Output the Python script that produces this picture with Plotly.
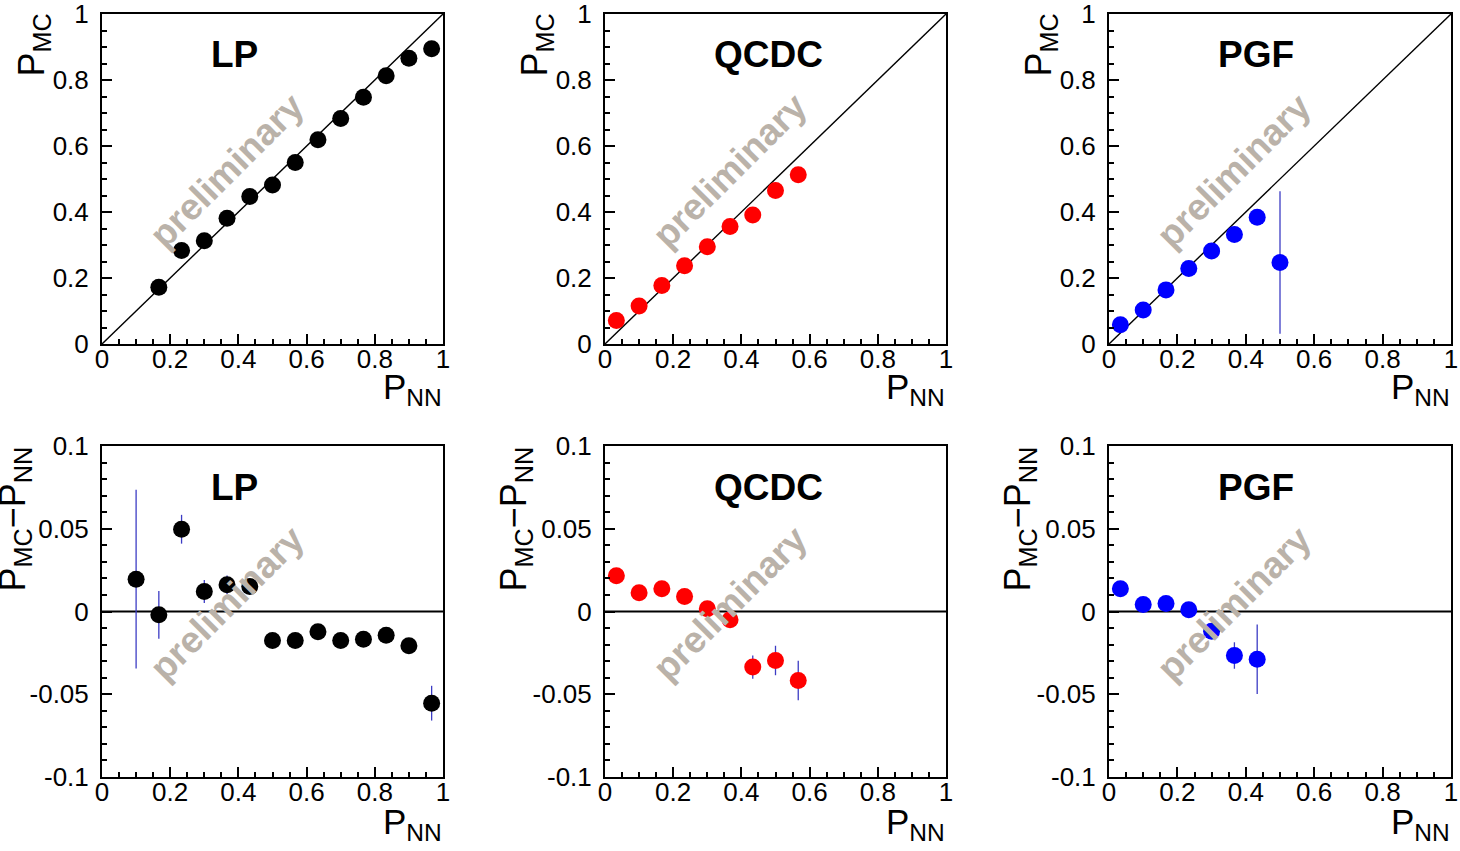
import plotly.graph_objects as go

# ---------------- data ----------------
lp_x_top = [0.1667, 0.2333, 0.3, 0.3667, 0.4333, 0.5, 0.5667, 0.6333, 0.7, 0.7667, 0.8333, 0.9, 0.9667]
lp_y_top = [0.172, 0.283, 0.313, 0.381, 0.447, 0.482, 0.550, 0.619, 0.683, 0.748, 0.813, 0.866, 0.895]
lp_e_top = [0.0144, 0.0087, 0.007, 0.0057, 0.004, 0.002, 0.002, 0.002, 0.002, 0.002, 0.002, 0.003, 0.0105]

lp_x_bot = [0.1, 0.1667, 0.2333, 0.3, 0.3667, 0.4333, 0.5, 0.5667, 0.6333, 0.7, 0.7667, 0.8333, 0.9, 0.9667]
lp_y_bot = [0.0195, -0.002, 0.0497, 0.0121, 0.0161, 0.0151, -0.0175, -0.0175, -0.0123, -0.0175, -0.0167, -0.0143, -0.0207, -0.0554]
lp_e_bot = [0.054, 0.0144, 0.0087, 0.007, 0.0057, 0.004, 0.002, 0.002, 0.002, 0.002, 0.002, 0.002, 0.003, 0.0105]

qc_x = [0.0333, 0.1, 0.1667, 0.2333, 0.3, 0.3667, 0.4333, 0.5, 0.5667]
qc_y_top = [0.071, 0.115, 0.177, 0.237, 0.295, 0.356, 0.391, 0.465, 0.513]
qc_y_bot = [0.0216, 0.0113, 0.0137, 0.0091, 0.0016, -0.005, -0.0336, -0.0296, -0.0417]
qc_e = [0.002, 0.002, 0.002, 0.002, 0.002, 0.003, 0.007, 0.0089, 0.012]

pg_x_top = [0.0333, 0.1, 0.1667, 0.2333, 0.3, 0.3667, 0.4333, 0.5]
pg_y_top = [0.058, 0.103, 0.164, 0.229, 0.282, 0.332, 0.384, 0.247]
pg_e_top = [0.002, 0.002, 0.002, 0.002, 0.003, 0.008, 0.021, 0.216]
pg_x_bot = [0.0333, 0.1, 0.1667, 0.2333, 0.3, 0.3667, 0.4333]
pg_y_bot = [0.0137, 0.0042, 0.0048, 0.001, -0.012, -0.0266, -0.0288]
pg_e_bot = [0.002, 0.002, 0.002, 0.002, 0.003, 0.008, 0.021]

panel_names = ["LP", "QCDC", "PGF"]
panel_colors = ["#000000", "#ff0000", "#0000ff"]

top_ticks = [0, 0.2, 0.4, 0.6, 0.8, 1]
top_ticktext = ["0", "0.2", "0.4", "0.6", "0.8", "1"]
bot_yticks = [-0.1, -0.05, 0, 0.05, 0.1]
bot_yticktext = ["-0.1", "-0.05", "0", "0.05", "0.1"]

# ---------------- layout geometry ----------------
W, H = 1460, 851
cols_px = [(102, 443), (605, 946), (1109, 1451)]
rows_px = [(14, 344), (446, 777)]

FONT = "Liberation Sans, Arial, Helvetica, sans-serif"
ERRC = "#3c3cc4"

fig = go.Figure()

top_data = [(lp_x_top, lp_y_top, lp_e_top), (qc_x, qc_y_top, qc_e), (pg_x_top, pg_y_top, pg_e_top)]
bot_data = [(lp_x_bot, lp_y_bot, lp_e_bot), (qc_x, qc_y_bot, qc_e), (pg_x_bot, pg_y_bot, pg_e_bot)]

def axname(i):
    return "" if i == 1 else str(i)

layout = dict(
    width=W, height=H,
    margin=dict(l=0, r=0, t=0, b=0, pad=0, autoexpand=False),
    paper_bgcolor="white", plot_bgcolor="white",
    showlegend=False,
    font=dict(family=FONT, color="black"),
)
annotations = []
shapes = []

common_ax = dict(
    showline=True, mirror=True, linecolor="black", linewidth=2,
    ticks="inside", ticklen=10, tickwidth=1.5, tickcolor="black",
    showgrid=False, zeroline=False, automargin=False,
    ticklabeloverflow="allow",
    tickfont=dict(family=FONT, size=26, color="black"),
)

for r in range(2):
    for c in range(3):
        idx = r * 3 + c + 1
        xs = axname(idx)
        x0p, x1p = cols_px[c]
        y0p, y1p = rows_px[r]
        xdom = [x0p / W, x1p / W]
        ydom = [1 - y1p / H, 1 - y0p / H]
        xa = dict(common_ax, domain=xdom, anchor="y" + xs, range=[0, 1],
                  tickmode="array", tickvals=top_ticks, ticktext=top_ticktext,
                  minor=dict(ticks="inside", ticklen=5, tickwidth=1.5, tickcolor="black",
                             tickmode="linear", tick0=0, dtick=0.05, showgrid=False),
                  ticklabelstandoff=-9)
        if r == 0:
            ya = dict(common_ax, domain=ydom, anchor="x" + xs, range=[0, 1],
                      tickmode="array", tickvals=top_ticks, ticktext=top_ticktext,
                      minor=dict(ticks="inside", ticklen=5, tickwidth=1.5, tickcolor="black",
                                 tickmode="linear", tick0=0, dtick=0.05, showgrid=False),
                      ticklabelstandoff=6)
            xd, yd, ed = top_data[c]
        else:
            ya = dict(common_ax, domain=ydom, anchor="x" + xs, range=[-0.1, 0.1],
                      tickmode="array", tickvals=bot_yticks, ticktext=bot_yticktext,
                      minor=dict(ticks="inside", ticklen=5, tickwidth=1.5, tickcolor="black",
                                 tickmode="linear", tick0=0, dtick=0.01, showgrid=False),
                      ticklabelstandoff=6)
            xd, yd, ed = bot_data[c]
        layout["xaxis" + xs] = xa
        layout["yaxis" + xs] = ya

        # reference lines
        if r == 0:
            shapes.append(dict(type="line", xref="x" + xs, yref="y" + xs,
                               x0=top_ticks[0], y0=top_ticks[0], x1=top_ticks[-1], y1=top_ticks[-1],
                               line=dict(color="black", width=1.4), layer="below"))
        else:
            shapes.append(dict(type="line", xref="x" + xs + " domain", yref="y" + xs,
                               x0=0, x1=1, y0=0, y1=0,
                               line=dict(color="black", width=2), layer="below"))

        fig.add_trace(go.Scatter(
            x=xd, y=yd, mode="markers", xaxis="x" + xs, yaxis="y" + xs,
            marker=dict(color=panel_colors[c], size=17, symbol="circle", line=dict(width=0)),
            error_y=dict(type="data", array=ed, visible=True, color=ERRC, thickness=1.3, width=0),
        ))

        # panel title
        annotations.append(dict(text="<b>%s</b>" % panel_names[c],
                                xref="x" + xs + " domain", yref="y" + xs + " domain",
                                x=0.313, y=0.876, xanchor="left", yanchor="middle",
                                showarrow=False, font=dict(family=FONT, size=37, color="black")))
        # watermark
        annotations.append(dict(text="<b>preliminary</b>",
                                xref="x" + xs + " domain", yref="y" + xs + " domain",
                                x=0.366, y=0.525, xanchor="center", yanchor="middle",
                                textangle=-45, showarrow=False,
                                font=dict(family=FONT, size=37, color="#bab2a9")))
        # x title
        annotations.append(dict(text="P<sub>NN</sub>", xref="paper", yref="paper",
                                x=(x1p + 1) / W, y=1 - (y1p + (21 if r == 0 else 23)) / H,
                                xanchor="right", yanchor="top", showarrow=False,
                                font=dict(family=FONT, size=35, color="black")))
        # y title
        if r == 0:
            annotations.append(dict(text="P<sub>MC</sub>", xref="paper", yref="paper",
                                    x=(x0p - 69) / W, y=1 - (y0p - 2) / H,
                                    xanchor="center", yanchor="top", textangle=-90, showarrow=False,
                                    font=dict(family=FONT, size=36, color="black")))
        else:
            off = 88 if c == 0 else 90
            annotations.append(dict(text="P<sub>MC</sub>\u2212P<sub>NN</sub>", xref="paper", yref="paper",
                                    x=(x0p - off) / W, y=1 - (y0p - 1) / H,
                                    xanchor="center", yanchor="top", textangle=-90, showarrow=False,
                                    font=dict(family=FONT, size=36, color="black")))

layout["annotations"] = annotations
layout["shapes"] = shapes
fig.update_layout(**layout)

fig.write_html("out.html",
               config={"displayModeBar": False},
               post_script="document.body.style.margin='0';document.body.style.overflow='hidden';")
